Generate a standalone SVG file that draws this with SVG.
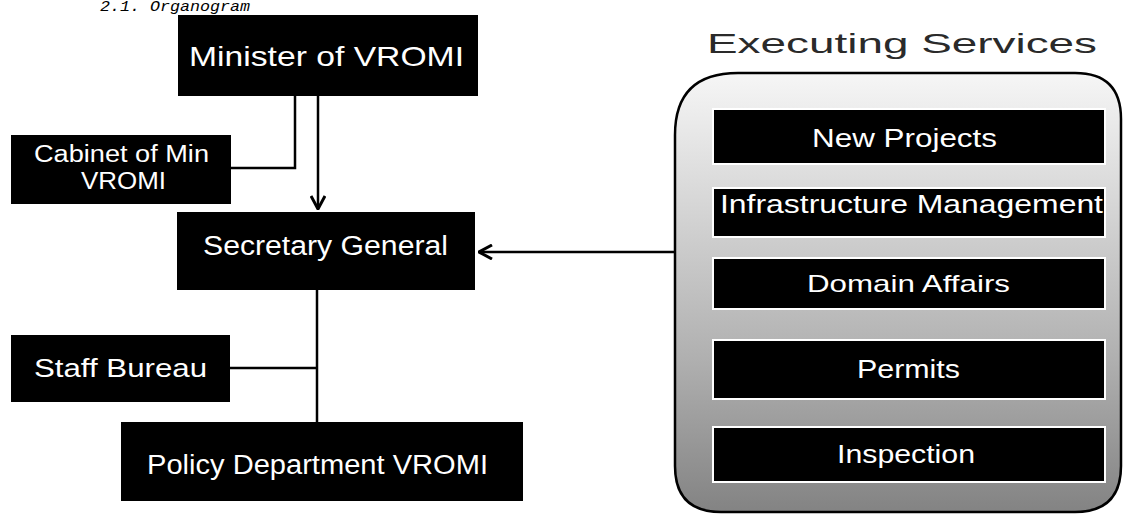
<svg xmlns="http://www.w3.org/2000/svg" width="1123" height="515" viewBox="0 0 1123 515">
<style>
.box{fill:#000}
.ibox{fill:#000;stroke:#fff;stroke-width:2}
.lbl{font-family:"Liberation Sans",Arial,sans-serif;fill:#fff;text-anchor:start}
.conn{stroke:#000;stroke-width:2.5;fill:none}
.title{font-family:"Liberation Sans",Arial,sans-serif;fill:#2a2a2a}
.head{font-family:"Liberation Mono","Courier New",monospace;font-style:italic;fill:#000}
</style>
<defs>
<marker id="arrow" viewBox="0 0 16 16" refX="15" refY="8" markerWidth="16" markerHeight="16" orient="auto" markerUnits="userSpaceOnUse">
<path d="M2,1 L15,8 L2,15" fill="none" stroke="#000" stroke-width="3"/>
</marker>
<linearGradient id="stip" x1="0" y1="0" x2="0" y2="1">
<stop offset="0" stop-color="#f6f6f6"/>
<stop offset="0.3" stop-color="#d6d6d6"/>
<stop offset="0.65" stop-color="#b0b0b0"/>
<stop offset="1" stop-color="#838383"/>
</linearGradient>
</defs>
<rect width="1123" height="515" fill="#fff"/>
<g id="heading">
<text class="head" x="100" y="11" font-size="14" textLength="150" lengthAdjust="spacingAndGlyphs">2.1.  Organogram</text>
</g>
<g id="connectors">
<polyline class="conn" points="295,96 295,168 231,168"/>
<line class="conn" x1="318" y1="96" x2="318" y2="209" marker-end="url(#arrow)"/>
<line class="conn" x1="675" y1="252" x2="479" y2="252" marker-end="url(#arrow)"/>
<line class="conn" x1="317" y1="290" x2="317" y2="422"/>
<line class="conn" x1="230" y1="368" x2="317" y2="368"/>
</g>
<g id="minister">
<rect class="box" x="178" y="15" width="300" height="81"/>
<text class="lbl" x="189" y="66" font-size="28" textLength="275" lengthAdjust="spacingAndGlyphs">Minister of VROMI</text>
</g>
<g id="cabinet">
<rect class="box" x="11" y="135" width="220" height="69"/>
<text class="lbl" x="34" y="162" font-size="23" textLength="175" lengthAdjust="spacingAndGlyphs">Cabinet of Min</text>
<text class="lbl" x="81" y="189" font-size="23" textLength="85" lengthAdjust="spacingAndGlyphs">VROMI</text>
</g>
<g id="secretary">
<rect class="box" x="177" y="212" width="298" height="78"/>
<text class="lbl" x="203" y="255" font-size="27" textLength="245" lengthAdjust="spacingAndGlyphs">Secretary General</text>
</g>
<g id="staff">
<rect class="box" x="11" y="335" width="219" height="67"/>
<text class="lbl" x="34" y="377" font-size="25" textLength="173" lengthAdjust="spacingAndGlyphs">Staff Bureau</text>
</g>
<g id="policy">
<rect class="box" x="121" y="422" width="402" height="79"/>
<text class="lbl" x="147" y="474" font-size="27" textLength="341" lengthAdjust="spacingAndGlyphs">Policy Department VROMI</text>
</g>
<g id="executing-services">
<text class="title" x="707" y="53" font-size="28" textLength="390" lengthAdjust="spacingAndGlyphs">Executing Services</text>
<path d="M675,135 Q675,73 738,73 L1075,73 Q1121,73 1121,119 L1121,466 Q1121,512 1075,512 L721,512 Q675,512 675,466 Z" fill="url(#stip)" stroke="#000" stroke-width="2.5"/>
<g id="new-projects">
<rect class="ibox" x="713" y="109" width="392" height="55"/>
<text class="lbl" x="812" y="147" font-size="25" textLength="185" lengthAdjust="spacingAndGlyphs">New Projects</text>
</g>
<g id="infrastructure">
<rect class="ibox" x="713" y="188" width="392" height="49"/>
<text class="lbl" x="720" y="213" font-size="25" textLength="383" lengthAdjust="spacingAndGlyphs">Infrastructure Management</text>
</g>
<g id="domain">
<rect class="ibox" x="713" y="258" width="392" height="51"/>
<text class="lbl" x="807" y="292" font-size="24" textLength="203" lengthAdjust="spacingAndGlyphs">Domain Affairs</text>
</g>
<g id="permits">
<rect class="ibox" x="713" y="340" width="392" height="59"/>
<text class="lbl" x="857" y="378" font-size="25" textLength="103" lengthAdjust="spacingAndGlyphs">Permits</text>
</g>
<g id="inspection">
<rect class="ibox" x="713" y="427" width="392" height="55"/>
<text class="lbl" x="837" y="463" font-size="25" textLength="138" lengthAdjust="spacingAndGlyphs">Inspection</text>
</g>
</g>
</svg>
